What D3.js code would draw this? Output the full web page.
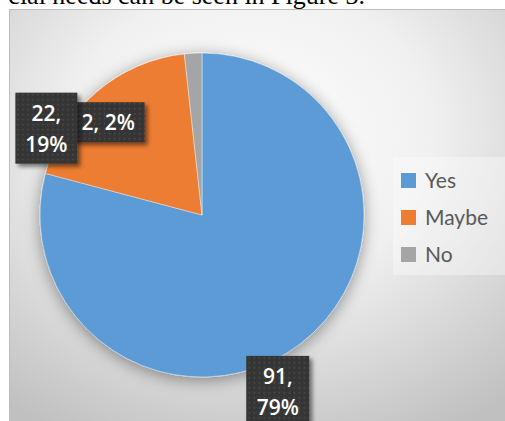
<!DOCTYPE html>
<html>
<head>
<meta charset="utf-8">
<script src="https://cdn.jsdelivr.net/npm/d3@7"></script>
<style>
body { margin: 0; background: #fff; }
svg { display: block; }
</style>
</head>
<body>
<div id="chart-area"></div>
<script>
// chart data
var categories = ["Yes", "Maybe", "No"];
var counts = [91, 22, 2];
var percents = ["79%", "19%", "2%"];
var colors = ["#5b9bd5", "#ed7d31", "#a5a5a5"];
var captionText = "cial needs can be seen in Figure 3.";

var width = 505, height = 421;
var cx = 202, cy = 215, radius = 162;

var svg = d3.select("#chart-area").append("svg")
            .attr("width", width)
            .attr("height", height);

var defs = svg.append("defs");

var bg = defs.append("radialGradient")
     .attr("id", "bg-grad")
     .attr("cx", "48%").attr("cy", "30%").attr("r", "80%");
bg.append("stop").attr("offset", "0%").attr("stop-color", "#ffffff");
bg.append("stop").attr("offset", "45%").attr("stop-color", "#f0f0f0");
bg.append("stop").attr("offset", "100%").attr("stop-color", "#c0c0c0");

var pieShadow = defs.append("filter").attr("id", "pie-shadow")
     .attr("x", "-20%").attr("y", "-20%").attr("width", "140%").attr("height", "140%");
pieShadow.append("feDropShadow")
     .attr("dx", 0).attr("dy", 3).attr("stdDeviation", 8)
     .attr("flood-color", "#000").attr("flood-opacity", 0.4);

var boxShadow = defs.append("filter").attr("id", "box-shadow")
     .attr("x", "-30%").attr("y", "-30%").attr("width", "160%").attr("height", "160%");
boxShadow.append("feDropShadow")
     .attr("dx", 3).attr("dy", 3).attr("stdDeviation", 2)
     .attr("flood-color", "#000").attr("flood-opacity", 0.5);

var dots = defs.append("pattern").attr("id", "dots")
     .attr("patternUnits", "userSpaceOnUse").attr("width", 5).attr("height", 5);
dots.append("rect").attr("width", 5).attr("height", 5).attr("fill", "#363636");
dots.append("circle").attr("cx", 1.5).attr("cy", 1.5).attr("r", 0.7).attr("fill", "#555");

// caption from the page above the figure (cut off at the top like the scan)
svg.append("text")
   .attr("x", 365).attr("y", 4)
   .attr("text-anchor", "end")
   .attr("font-family", "Liberation Serif, Times New Roman, serif")
   .attr("font-size", 26)
   .attr("fill", "#000")
   .text(captionText);

// chart frame
svg.append("rect")
   .attr("x", 9.5).attr("y", 9.5)
   .attr("width", width).attr("height", height)
   .attr("fill", "url(#bg-grad)")
   .attr("stroke", "#bdbdbd");

var data = categories.map(function(c, i){
	return {name: c, value: counts[i], pct: percents[i], color: colors[i]};
});

var pie = d3.pie().sort(null).value(function(d){ return d.value; });
var arc = d3.arc().innerRadius(0).outerRadius(radius);
var arcs = pie(data);

var g = svg.append("g")
           .attr("transform", "translate(" + cx + "," + cy + ")");

g.append("g").attr("filter", "url(#pie-shadow)")
 .selectAll("path")
 .data(arcs)
 .enter()
 .append("path")
 .attr("d", arc)
 .attr("fill", function(d){ return d.data.color; })
 .attr("stroke", "#fff")
 .attr("stroke-opacity", 0.5)
 .attr("stroke-width", 0.8);

// data callouts, nudged away from the edge like Excel's best fit
var labelArc = d3.arc().innerRadius(radius).outerRadius(radius);
var labelNudge = [[-23, 48], [-50, 36], [-85, 69]];
var labelLines = [
	[counts[0] + ",", percents[0]],
	[counts[1] + ",", percents[1]],
	[counts[2] + ", " + percents[2]]
];
var boxW = [63, 62, 73];

// draw No first so the Maybe box sits on top
var order = [0, 2, 1];
order.forEach(function(i){
	var c = labelArc.centroid(arcs[i]);
	var x = c[0] + labelNudge[i][0];
	var y = c[1] + labelNudge[i][1];
	var lines = labelLines[i];
	var lh = 31;
	var h = lines.length == 1 ? 40 : 71;
	var lg = g.append("g").attr("transform", "translate(" + x + "," + y + ")");
	lg.append("rect")
	  .attr("x", -boxW[i] / 2).attr("y", -h / 2)
	  .attr("width", boxW[i]).attr("height", h)
	  .attr("fill", "url(#dots)")
	  .attr("filter", "url(#box-shadow)");
	lg.selectAll("text")
	  .data(lines)
	  .enter()
	  .append("text")
	  .attr("x", 0)
	  .attr("y", function(d, j){ return -h / 2 + 28 + j * lh; })
	  .attr("text-anchor", "middle")
	  .attr("font-family", "Open Sans, sans-serif")
	  .attr("font-weight", 600)
	  .attr("font-size", 21)
	  .attr("fill", "#fff")
	  .text(function(d){ return d; });
});

// legend
var legend = svg.append("g").attr("transform", "translate(393,157)");
legend.append("rect")
      .attr("width", 112).attr("height", 118)
      .attr("fill", "#fff").attr("fill-opacity", 0.35);

var items = legend.selectAll("g.item")
      .data(data)
      .enter()
      .append("g")
      .attr("class", "item")
      .attr("transform", function(d, i){ return "translate(8," + (16 + i * 37) + ")"; });

items.append("rect")
     .attr("width", 15).attr("height", 15)
     .attr("fill", function(d){ return d.color; });

items.append("text")
     .attr("x", 24).attr("y", 15)
     .attr("font-family", "Lato, sans-serif")
     .attr("font-size", 21)
     .attr("fill", "#595959")
     .text(function(d){ return d.name; });
</script>
</body>
</html>
